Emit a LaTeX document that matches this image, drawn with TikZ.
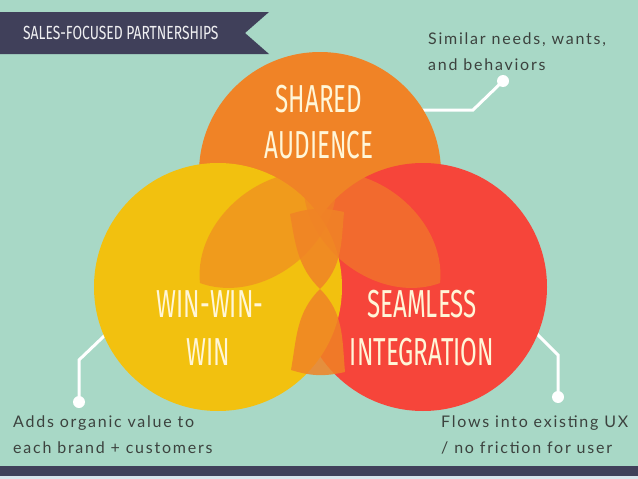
\documentclass[tikz,border=0pt]{standalone}
\usepackage{fontspec}
\setmainfont{Lato}
\newfontfamily\headfont[FakeStretch=0.62]{Fira Sans}
\newfontfamily\bannerfont[FakeStretch=0.73]{Fira Sans}
\newfontfamily\notefont[LetterSpace=11]{Lato}
\definecolor{bg}{HTML}{A8D8C6}
\definecolor{navy}{HTML}{40405A}
\definecolor{corange}{HTML}{F08326}
\definecolor{cyellow}{HTML}{F2C10F}
\definecolor{cred}{HTML}{F6453A}
\definecolor{cream}{HTML}{FFF6D8}
\definecolor{notegray}{HTML}{3C423E}
\definecolor{pale}{HTML}{D8E4EC}
\tikzset{
  conn/.style={draw=white, line width=3pt},
  dotc/.style={fill=white},
  headtxt/.style={font=\headfont\fontsize{39}{39}\selectfont, text=cream, anchor=base, inner sep=0pt},
  notetxt/.style={font=\notefont\fontsize{16}{16}\selectfont, text=notegray, anchor=base west, inner sep=0pt},
  petal/.style={fill=corange, fill opacity=0.6}
}
\begin{document}
\begin{tikzpicture}[x=1pt,y=-1pt]
\fill[bg] (0,0) rectangle (638,479);
\useasboundingbox (0,0) rectangle (638,479);
% bottom bar
\fill[navy] (0,466) rectangle (638,476);
\fill[pale] (0,476) rectangle (638,479);
% banner
\fill[navy] (0,12) -- (269,12) -- (245,33) -- (269,54) -- (0,54) -- cycle;
\node[font=\bannerfont\fontsize{19}{19}\selectfont, text=white!92!navy, anchor=base west, inner sep=0pt] (title) at (23,39) {SALES-FOCUSED PARTNERSHIPS};
% connectors
\coordinate (c1s) at (410,110);
\coordinate (c1m) at (473,110);
\coordinate (c1d) at (503,81);
\coordinate (c2s) at (125,316);
\coordinate (c2m) at (79,360);
\coordinate (c2d) at (79,402);
\coordinate (c3s) at (515,312);
\coordinate (c3m) at (558,355);
\coordinate (c3d) at (558,397);
\draw[conn] (c1s) -- (c1m) -- (c1d);
\draw[conn] (c2s) -- (c2m) -- (c2d);
\draw[conn] (c3s) -- (c3m) -- (c3d);
\fill[dotc] (c1d) circle[radius=6];
\fill[dotc] (c2d) circle[radius=6];
\fill[dotc] (c3d) circle[radius=6];
% circles
\coordinate (oc) at (320,173);
\coordinate (yc) at (218,287);
\coordinate (rc) at (423,287);
\fill[corange] (oc) circle[radius=121];
\fill[cred] (rc) circle[radius=124];
\fill[cyellow] (yc) circle[radius=124];
% petals
\coordinate (pl1) at (200,283);
\coordinate (pl2) at (336,177);
\coordinate (pr1) at (440,283);
\coordinate (pr2) at (304,177);
\fill[petal] (pl1) to[bend left=58] (pl2) to[bend left=58] (pl1) -- cycle;
\fill[petal] (pr1) to[bend right=58] (pr2) to[bend right=58] (pr1) -- cycle;
% hourglass
\coordinate (hw) at (320,289);
\coordinate (ht1) at (290,214);
\coordinate (ht2) at (344,212);
\coordinate (hb1) at (291,370);
\coordinate (hb2) at (345,372);
\fill[corange, fill opacity=0.85] (hw) to[out=135,in=-80] (ht1) to[bend left=15] (ht2) to[out=-95,in=45] (hw) -- cycle;
\fill[corange, fill opacity=0.85] (hw) to[out=-135,in=80] (hb1) to[bend right=15] (hb2) to[out=95,in=-45] (hw) -- cycle;
% circle texts
\node[headtxt] (sh1) at (319,112) {SHARED};
\node[headtxt] (sh2) at (319,158) {AUDIENCE};
\node[headtxt] (ww1) at (210,317) {WIN-WIN-};
\node[headtxt] (ww2) at (208,365) {WIN};
\node[headtxt] (si1) at (422,317) {SEAMLESS};
\node[headtxt] (si2) at (422,365) {INTEGRATION};
% notes
\node[notetxt] (n1a) at (428,45) {Similar needs, wants,};
\node[notetxt] (n1b) at (428,70) {and behaviors};
\node[notetxt] (n2a) at (13,427) {Adds organic value to};
\node[notetxt] (n2b) at (13,453) {each brand + customers};
\node[notetxt] (n3a) at (441,427) {Flows into existing UX};
\node[notetxt] (n3b) at (441,453) {/ no friction for user};
\end{tikzpicture}
\end{document}
